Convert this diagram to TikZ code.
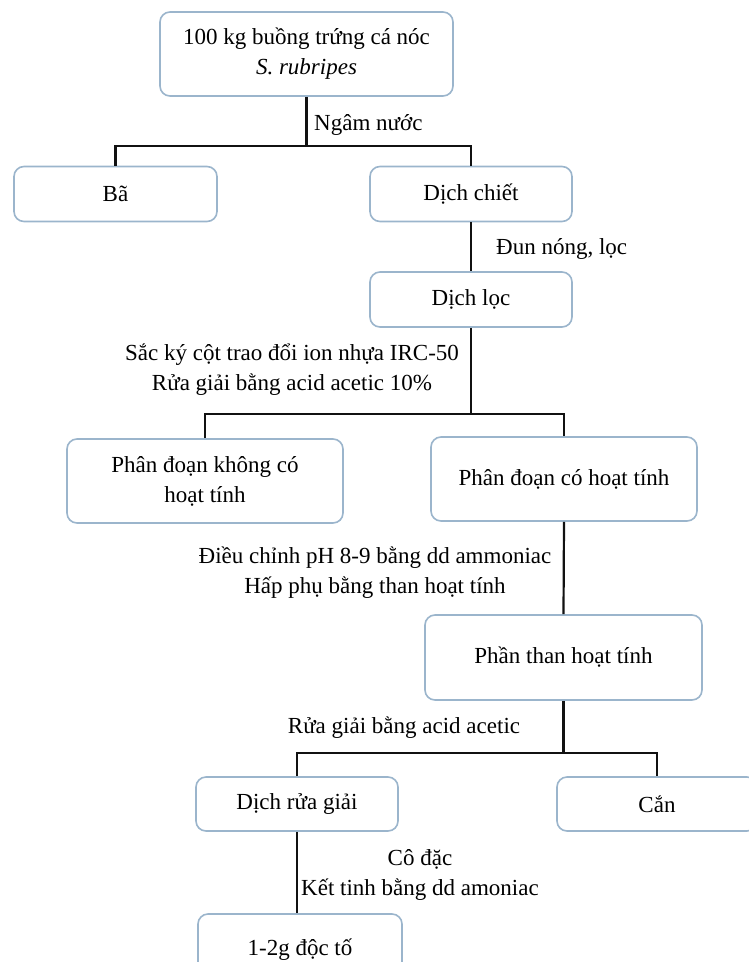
\documentclass[tikz,border=0pt]{standalone}
\usepackage{fontspec}
\setmainfont{Liberation Serif}
\usepackage{tikz}
\usetikzlibrary{positioning, calc}
\usepackage{xcolor}
\definecolor{boxline}{HTML}{9BB5CC}
\definecolor{linkline}{HTML}{111111}
\tikzset{
    procbox/.style={
        rectangle, rounded corners=10pt, draw=boxline, line width=1.6pt,
        fill=white, text centered, align=center,
        font=\fontsize{23}{30}\selectfont
    },
    note/.style={
        align=center, inner sep=0pt, font=\fontsize{23}{30}\selectfont
    },
    link/.style={
        draw=linkline, line width=2.2pt
    }
}

\begin{document}
\begin{tikzpicture}[x=1pt, y=-1pt]

    \useasboundingbox (0,0) rectangle (749,962);

    \node[procbox, minimum width=293pt, minimum height=84pt] (raw)    at (306.5,54)  {100 kg buồng trứng cá nóc\\\textit{S. rubripes}};
    \node[procbox, minimum width=203pt, minimum height=55pt] (ba)     at (115.5,194) {Bã};
    \node[procbox, minimum width=202pt, minimum height=55pt] (chiet)  at (471,194)   {Dịch chiết};
    \node[procbox, minimum width=202pt, minimum height=55pt] (loc)    at (471,299.5) {Dịch lọc};
    \node[procbox, minimum width=276pt, minimum height=84pt] (khong)  at (205,481)   {Phân đoạn không có\\hoạt tính};
    \node[procbox, minimum width=266pt, minimum height=84pt] (co)     at (564,479)   {Phân đoạn có hoạt tính};
    \node[procbox, minimum width=277pt, minimum height=85pt] (than)   at (563.5,657.5) {Phần than hoạt tính};
    \node[procbox, minimum width=202pt, minimum height=54pt] (ruagiai) at (297,804)  {Dịch rửa giải};
    \node[procbox, minimum width=200pt, minimum height=54pt] (can)    at (657,804)   {Cắn};
    \node[procbox, minimum width=204pt, minimum height=72pt] (docto)  at (300,950)   {1-2g độc tố};

    % tree connectors
    \coordinate (j1) at ($(raw.south)+(0,49)$);
    \draw[link] (raw.south) -- (j1);
    \draw[link] (ba.north) |- (j1) -| (chiet.north);
    \draw[link] (chiet.south) -- (loc.north);
    \coordinate (j2) at ($(loc.south)+(0,86)$);
    \draw[link] (loc.south) -- (j2);
    \draw[link] (khong.north) |- (j2) -| (co.north);
    \draw[link] (co.south) -- (than.north);
    \coordinate (j3) at ($(than.south)+(0,52)$);
    \draw[link] (than.south) -- (j3);
    \draw[link] (ruagiai.north) |- (j3) -| (can.north);
    \draw[link] (ruagiai.south) -- (ruagiai.south |- docto.north);

    \node[note, anchor=west] (l1) at (314,125)   {Ngâm nước};
    \node[note, anchor=west] (l2) at (496,249)   {Đun nóng, lọc};
    \node[note]              (l3) at (292,370)   {Sắc ký cột trao đổi ion nhựa IRC-50\\Rửa giải bằng acid acetic 10\%};
    \node[note]              (l4) at (375,572.5) {Điều chỉnh pH 8-9 bằng dd ammoniac\\Hấp phụ bằng than hoạt tính};
    \node[note]              (l5) at (404,728)   {Rửa giải bằng acid acetic};
    \node[note]              (l6) at (420,875)   {Cô đặc\\Kết tinh bằng dd amoniac};

\end{tikzpicture}
\end{document}
